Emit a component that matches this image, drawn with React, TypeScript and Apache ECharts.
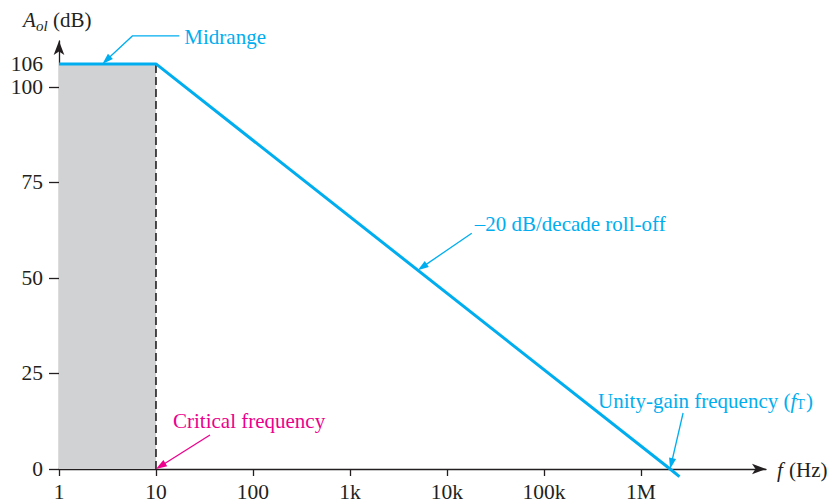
import React, { useEffect, useRef } from 'react';
import * as echarts from 'echarts';

const freqTicks = [1, 10, 100, 1e3, 1e4, 1e5, 1e6];
const freqLabels = ['1', '10', '100', '1k', '10k', '100k', '1M'];
const gainTicks = [0, 25, 50, 75, 100];
const gainLabels = [0, 25, 50, 75, 100, 106];
const responseFreq = [1, 10, 2e6, 2.5e6];
const responseGain = [106, 106, 0, -2];
const midrangeFreq = [1, 10];
const midrangeGain = [106, 106];
const criticalFreq = 10;
const openLoopGain = 106;
const unityFreq = 2e6;

const CYAN = '#00AEEF';
const MAGENTA = '#EC008C';
const INK = '#231F20';
const SERIF = '"Liberation Serif", "Times New Roman", serif';

function arrow(tip: number[], tail: number[], color: string, extra: number[][] = []) {
  const dx = tip[0] - tail[0];
  const dy = tip[1] - tail[1];
  const len = Math.hypot(dx, dy);
  const ux = dx / len, uy = dy / len;
  const hl = 11, hw = 3.6;
  const bx = tip[0] - ux * hl, by = tip[1] - uy * hl;
  const pts = [...extra, tail, [bx + ux * 2, by + uy * 2]];
  return [
    {
      type: 'polyline',
      shape: { points: pts },
      style: { stroke: color, lineWidth: 1.3, fill: null },
      z: 10,
    },
    {
      type: 'polygon',
      shape: { points: [tip, [bx - uy * hw, by + ux * hw], [bx + uy * hw, by - ux * hw]] },
      style: { fill: color },
      z: 10,
    },
  ];
}

export default function App() {
  const ref = useRef<HTMLDivElement>(null);
  useEffect(() => {
    if (!ref.current) return;
    const chart = echarts.init(ref.current, null, { renderer: 'svg' });
    chart.setOption({
      animation: false,
      grid: { left: 59, right: 70, top: 41, bottom: 32 },
      xAxis: {
        type: 'log',
        min: 1,
        max: 1.95e7,
        axisLine: { lineStyle: { color: INK, width: 1.3 }, symbol: ['none', 'arrow'], symbolSize: [8, 14] },
        axisTick: { length: 7, lineStyle: { color: INK, width: 1.3 }, customValues: freqTicks },
        axisLabel: {
          customValues: freqTicks,
          formatter: (v: number) => freqLabels[freqTicks.findIndex((t) => Math.abs(t - v) / t < 1e-6)] ?? '',
          color: INK,
          fontFamily: SERIF,
          fontSize: 21.5,
          margin: 12,
        },
        splitLine: { show: false },
        minorTick: { show: false },
      },
      yAxis: {
        type: 'value',
        min: 0,
        max: 112,
        axisLine: { show: true, lineStyle: { color: INK, width: 1.3 }, symbol: ['none', 'arrow'], symbolSize: [8, 14] },
        axisTick: { show: true, length: 10, lineStyle: { color: INK, width: 1.3 }, customValues: gainTicks },
        axisLabel: {
          customValues: gainLabels,
          color: INK,
          fontFamily: SERIF,
          fontSize: 21.5,
          margin: 16,
        },
        splitLine: { show: false },
      },
      series: [
        {
          type: 'line',
          data: midrangeFreq.map((f, i) => [f, midrangeGain[i]]),
          symbol: 'none',
          lineStyle: { width: 0 },
          areaStyle: { color: '#D1D2D4', opacity: 1 },
          z: 1,
        },
        {
          type: 'line',
          data: [[criticalFreq, 0], [criticalFreq, openLoopGain]],
          symbol: 'none',
          lineStyle: { color: INK, width: 1.6, type: [8, 4] },
          z: 2,
        },
        {
          type: 'line',
          data: responseFreq.map((f, i) => [f, responseGain[i]]),
          symbol: 'none',
          clip: false,
          lineStyle: { color: CYAN, width: 3 },
          z: 3,
        },
      ],
    });

    const px = (p: number[]) => chart.convertToPixel({ gridIndex: 0 }, p) as number[];
    const midTip = px([2.8, openLoopGain]);
    const rollTip = px([5000, 106 - 20 * (Math.log10(5000) - 1)]);
    const critTip = px([criticalFreq, 0]);
    const unityTip = px([unityFreq, 0]);

    const txt = (x: number, y: number, text: string, color: string, size = 21, style = 'normal', align = 'left') => ({
      type: 'text',
      x,
      y,
      z: 11,
      style: { text, fill: color, font: `${style} ${size}px ${SERIF}`, align, verticalAlign: 'middle' },
    });

    const midBend = [midTip[0] + 30, midTip[1] - 28];
    const midEnd = [midBend[0] + 47, midBend[1]];
    chart.setOption({
      graphic: [
        ...arrow(midTip, midBend, CYAN, [midEnd]),
        txt(midEnd[0] + 5, midEnd[1] + 1, 'Midrange', CYAN),
        ...arrow(rollTip, [rollTip[0] + 54, rollTip[1] - 37], CYAN),
        txt(rollTip[0] + 57, rollTip[1] - 46, '\u201320 dB/decade roll-off', CYAN),
        ...arrow(critTip, [critTip[0] + 54, critTip[1] - 34], MAGENTA),
        txt(critTip[0] + 17, critTip[1] - 48, 'Critical frequency', MAGENTA),
        ...arrow(unityTip, [unityTip[0] + 13, unityTip[1] - 56], CYAN),
        {
          type: 'text',
          x: unityTip[0] - 72,
          y: unityTip[1] - 70,
          z: 11,
          style: {
            text: '{n|Unity-gain frequency (}{i|f}{s|T}{n|)}',
            fill: CYAN,
            verticalAlign: 'middle',
            rich: {
              n: { fontFamily: SERIF, fontSize: 21, fill: CYAN, verticalAlign: 'bottom', lineHeight: 24 },
              i: { fontFamily: SERIF, fontSize: 21, fontStyle: 'italic', fill: CYAN, verticalAlign: 'bottom', lineHeight: 24 },
              s: { fontFamily: SERIF, fontSize: 14, fill: CYAN, verticalAlign: 'bottom', lineHeight: 17, padding: [0, 1, 0, 0] },
            },
          },
        },
        txt(23, 20, 'A', INK, 21, 'italic'),
        txt(36, 26, 'ol', INK, 15, 'italic'),
        txt(53, 20, '(dB)', INK, 21),
        txt(777, 470, 'f', INK, 21, 'italic'),
        txt(789, 470, '(Hz)', INK, 21),
      ],
    });
    return () => chart.dispose();
  }, []);
  return <div ref={ref} style={{ position: 'fixed', left: 0, top: 0, width: 836, height: 503, background: '#fff' }} />;
}
